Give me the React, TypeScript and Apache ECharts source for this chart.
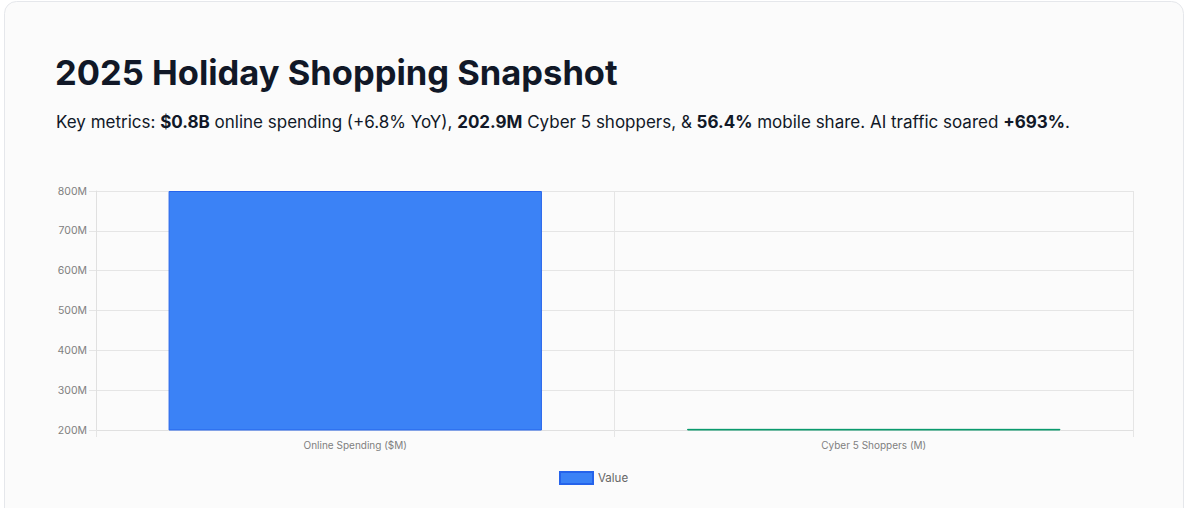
import React, { useEffect, useRef } from "react";
import * as echarts from "echarts";

const categories = ["Online Spending ($M)", "Cyber 5 Shoppers (M)"];
const values = [800000000, 202900000];
const barColors = ["#3b82f6", "#10b981"];
const barBorders = ["#2563eb", "#059669"];
const seriesName = "Value";
const titleText = "2025 Holiday Shopping Snapshot";
const subtitleParts: [string, boolean][] = [
  ["Key metrics: ", false],
  ["$0.8B", true],
  [" online spending (+6.8% YoY), ", false],
  ["202.9M", true],
  [" Cyber 5 shoppers, & ", false],
  ["56.4%", true],
  [" mobile share. AI traffic soared ", false],
  ["+693%", true],
  [".", false],
];
const yMin = 200000000;
const yMax = 800000000;
const yStep = 100000000;

export default function App() {
  const ref = useRef<HTMLDivElement>(null);
  useEffect(() => {
    if (!ref.current) return;
    const chart = echarts.init(ref.current, undefined, { renderer: "svg" });
    const sub = subtitleParts
      .map(([t, b]) => `{${b ? "b" : "n"}|${t}}`)
      .join("");
    const axisFont = "Inter, Liberation Sans, Arial, sans-serif";
    chart.setOption({
      animation: false,
      backgroundColor: "#ffffff",
      graphic: [
        {
          type: "rect",
          z: -10,
          shape: { x: 4.5, y: 1.5, width: 1179, height: 540, r: 12 },
          style: { fill: "#fbfbfb", stroke: "#e5e7eb", lineWidth: 1 },
          silent: true,
        },
      ],
      title: [
        {
          text: titleText,
          left: 50,
          top: 50,
          textStyle: {
            fontFamily: "Inter",
            fontSize: 34.5,
            fontWeight: 700,
            color: "#111827",
          },
        },
        {
          text: sub,
          left: 51,
          top: 108,
          textStyle: {
            rich: {
              n: { fontFamily: "Inter", fontSize: 17, fontWeight: 400, color: "#111827" },
              b: { fontFamily: "Inter", fontSize: 17, fontWeight: 700, color: "#111827" },
            },
          },
        },
      ],
      grid: { left: 96, right: 61, top: 191, bottom: 78, containLabel: false },
      legend: {
        data: [seriesName],
        bottom: 18,
        left: 554,
        icon: "rect",
        itemWidth: 33,
        itemHeight: 12,
        itemGap: 10,
        textStyle: { fontFamily: axisFont, fontSize: 11.5, color: "#666666" },
      },
      xAxis: {
        type: "category",
        data: categories,
        axisLine: { show: true, lineStyle: { color: "#e0e0e0" } },
        axisTick: { show: true, length: 7, lineStyle: { color: "#e5e5e5" } },
        splitLine: { show: true, lineStyle: { color: "#e5e5e5" } },
        axisLabel: { fontFamily: axisFont, fontSize: 10, color: "#808080", margin: 10 },
      },
      yAxis: {
        type: "value",
        min: yMin,
        max: yMax,
        interval: yStep,
        axisLine: { show: true, lineStyle: { color: "#e0e0e0" } },
        axisTick: { show: true, length: 7, lineStyle: { color: "#e5e5e5" } },
        splitLine: { show: true, lineStyle: { color: "#e5e5e5" } },
        axisLabel: {
          fontFamily: axisFont,
          fontSize: 10.5,
          color: "#808080",
          margin: 9,
          formatter: (v: number) => `${v / 1000000}M`,
        },
      },
      series: [
        {
          name: seriesName,
          type: "bar",
          barWidth: "72%",
          itemStyle: { color: barColors[0], borderColor: barBorders[0], borderWidth: 1 },
          data: values.map((v, i) => ({
            value: v,
            itemStyle: { color: barColors[i], borderColor: barBorders[i], borderWidth: 1 },
          })),
        },
      ],
    });
    return () => chart.dispose();
  }, []);
  return (
    <div
      ref={ref}
      style={{ position: "absolute", left: 0, top: 0, width: 1194, height: 508 }}
    />
  );
}
